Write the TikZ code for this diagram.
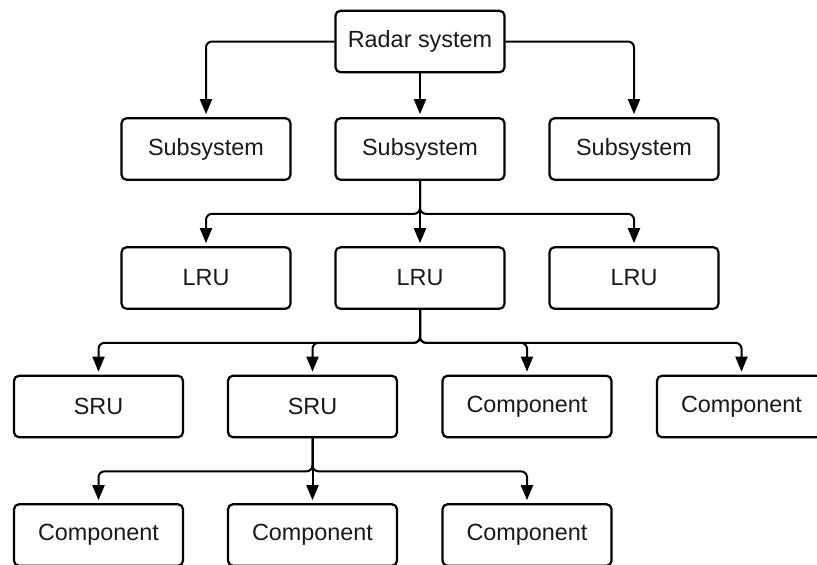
\documentclass[tikz,border=0pt]{standalone}
\usepackage{fontspec}
\setmainfont{Liberation Sans}
\usetikzlibrary{arrows.meta,calc}
\begin{document}
\begin{tikzpicture}[x=1pt,y=-1pt,
  box/.style={draw=black, line width=2.2pt, rounded corners=5pt,
    minimum width=169pt, minimum height=61.5pt, inner sep=0pt,
    font=\fontsize{23.4}{28}\selectfont, text=black!90},
  conn/.style={draw=black, line width=2pt, rounded corners=6pt,
    -{Triangle[length=15pt,width=12pt]}, shorten >=3pt}]
\clip (0,0) rectangle (817,565);

% level 0
\node[box] (radar) at (420,41.5) {Radar system};
% level 1
\node[box] (s1) at (206,149) {Subsystem};
\node[box] (s2) at (420,149) {Subsystem};
\node[box] (s3) at (634,149) {Subsystem};
% level 2
\node[box] (l1) at (206,278) {LRU};
\node[box] (l2) at (420,278) {LRU};
\node[box] (l3) at (634,278) {LRU};
% level 3
\node[box] (u1) at (98.5,406.5) {SRU};
\node[box] (u2) at (312.5,406.5) {SRU};
\node[box] (c1) at (527,406.5) {Component};
\node[box] (c2) at (741.5,406.5) {Component};
% level 4
\node[box] (c3) at (98.5,535) {Component};
\node[box] (c4) at (312.5,535) {Component};
\node[box] (c5) at (527,535) {Component};

% radar system -> subsystems
\draw[conn] (radar.west) -| (s1.north);
\draw[conn] (radar.south) -- (s2.north);
\draw[conn] (radar.east) -| (s3.north);

% subsystem -> LRUs
\coordinate (j1) at ($(s2.south)+(0,33)$);
\draw[conn] (s2.south) -- (j1) -| (l1.north);
\draw[conn] (s2.south) -- (l2.north);
\draw[conn] (s2.south) -- (j1) -| (l3.north);

% LRU -> SRUs and components
\coordinate (j2) at ($(l2.south)+(0,33)$);
\draw[conn] (l2.south) -- (j2) -| (u1.north);
\draw[conn] (l2.south) -- (j2) -| (u2.north);
\draw[conn] (l2.south) -- (j2) -| (c1.north);
\draw[conn] (l2.south) -- (j2) -| (c2.north);

% SRU -> components
\coordinate (j3) at ($(u2.south)+(0,33)$);
\draw[conn] (u2.south) -- (j3) -| (c3.north);
\draw[conn] (u2.south) -- (c4.north);
\draw[conn] (u2.south) -- (j3) -| (c5.north);
\end{tikzpicture}
\end{document}
